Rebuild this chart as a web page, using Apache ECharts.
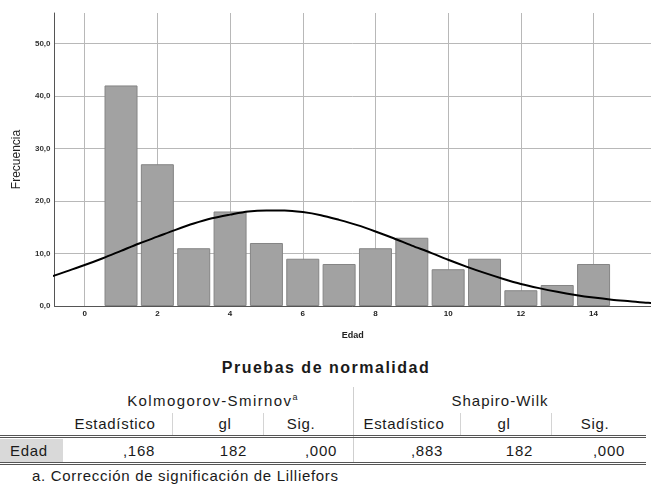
<!DOCTYPE html>
<html>
<head>
<meta charset="utf-8">
<script src="https://cdn.jsdelivr.net/npm/echarts@6/dist/echarts.min.js"></script>
<style>
body{margin:0;background:#fff;font-family:"Liberation Sans",Arial,sans-serif;}
#wrap{position:relative;width:651px;height:484px;overflow:hidden;}
#chart{position:absolute;left:0;top:0;width:651px;height:345px;}
.t{position:absolute;white-space:nowrap;color:#1a1a1a;font-size:15px;letter-spacing:0.7px;line-height:20px;height:20px;}
.ln{position:absolute;}
sup{font-size:9px;vertical-align:6px;line-height:0;}
</style>
</head>
<body>
<div id="wrap">
<div id="chart"></div>
</div>
<script>
// histograma de Edad
var edades = [1,2,3,4,5,6,7,8,9,10,11,12,13,14];
var frecuencias = [42,27,11,18,12,9,8,11,13,7,9,3,4,8];
// curva normal (cada media unidad)
var curvaX = [-1,-0.5,0,0.5,1,1.5,2,2.5,3,3.5,4,4.5,5,5.5,6,6.5,7,7.5,8,8.5,9,9.5,10,10.5,11,11.5,12,12.5,13,13.5,14,14.5,15,15.5,16];
var curvaY = [5.4,6.6,7.8,9.1,10.5,11.9,13.2,14.5,15.7,16.7,17.4,18.0,18.2,18.2,17.9,17.3,16.4,15.4,14.2,12.9,11.5,10.2,8.8,7.5,6.3,5.2,4.2,3.4,2.7,2.1,1.6,1.2,0.9,0.6,0.5];
var xTicks = [0,2,4,6,8,10,12,14];
var yTicks = [0,10,20,30,40,50];

// tabla pruebas de normalidad
var titulo = 'Pruebas de normalidad';
var grupos = ['Kolmogorov-Smirnov<sup>a</sup>','Shapiro-Wilk'];
var columnas = ['Estadístico','gl','Sig.','Estadístico','gl','Sig.'];
var variable = 'Edad';
var valores = [',168','182',',000',',883','182',',000'];
var nota = 'a. Corrección de significación de Lilliefors';

function initChart(){
    var myChart=echarts.init(document.getElementById('chart'));
    var option={
        animation:false,
        textStyle:{fontFamily:'Liberation Sans'},
        grid:{left:54.5,top:13,right:0,bottom:36.3},
        xAxis:{
            type:'value',
            min:-0.83,
            max:15.58,
            name:'Edad',
            nameLocation:'middle',
            nameGap:25,
            nameTextStyle:{fontSize:9,fontWeight:'bold',color:'#222'},
            axisLine:{show:true,onZero:false,lineStyle:{color:'#555',width:1}},
            axisTick:{show:false,customValues:xTicks},
            axisLabel:{customValues:xTicks,fontSize:8,fontWeight:'bold',color:'#222',margin:4},
            splitLine:{show:true,lineStyle:{color:'#b8b8b8',width:1}}
        },
        yAxis:{
            type:'value',
            min:0,
            max:55.8,
            name:'Frecuencia',
            nameLocation:'middle',
            nameGap:32,
            nameTextStyle:{fontSize:12,color:'#222'},
            axisLine:{show:true,onZero:false,lineStyle:{color:'#555',width:1}},
            axisTick:{show:false,customValues:yTicks},
            axisLabel:{
                customValues:yTicks,fontSize:8,fontWeight:'bold',color:'#333',margin:4,
                formatter:function(v){return v.toFixed(1).replace('.',',');}
            },
            splitLine:{show:true,lineStyle:{color:'#b8b8b8',width:1}}
        },
        series:[
            {
                name:'Frecuencia',
                type:'bar',
                barWidth:33,
                data:edades.map(function(e,i){return [e,frecuencias[i]];}),
                itemStyle:{color:'#a2a2a2',borderColor:'#858585',borderWidth:1},
                z:2
            },
            {
                name:'Normal',
                type:'line',
                smooth:0.3,
                symbol:'none',
                data:curvaX.map(function(x,i){return [x,curvaY[i]];}),
                lineStyle:{color:'#000',width:2},
                z:3
            }
        ]
    };
    myChart.setOption(option);
}

function texto(html,left,cy,opts){
    var d=document.createElement('div');
    d.className='t';
    d.innerHTML=html;
    d.style.top=(cy-10)+'px';
    if(opts&&opts.right!==undefined){
        d.style.left='auto';
        d.style.right=(651-opts.right)+'px';
    }else if(opts&&opts.center){
        d.style.left=(left-200)+'px';
        d.style.width='400px';
        d.style.textAlign='center';
    }else{
        d.style.left=left+'px';
    }
    if(opts&&opts.bold){d.style.fontWeight='bold';}
    if(opts&&opts.size){d.style.fontSize=opts.size+'px';}
    if(opts&&opts.ls!==undefined){d.style.letterSpacing=opts.ls+'px';}
    document.getElementById('wrap').appendChild(d);
    return d;
}
function linea(x,y,w,h,css){
    var d=document.createElement('div');
    d.className='ln';
    d.style.left=x+'px';d.style.top=y+'px';
    d.style.width=w+'px';d.style.height=h+'px';
    for(var k in css){d.style[k]=css[k];}
    document.getElementById('wrap').appendChild(d);
}

function initTabla(){
    var centrosGrupo=[213,500];
    var centrosCol=[115,225,301,404,504,595];
    var finesValor=[155,247,337,443,533,625];
    texto(titulo,326,368,{center:true,bold:true,size:16,ls:1.5});
    texto(grupos[0],centrosGrupo[0],401,{center:true,ls:1.4});
    texto(grupos[1],centrosGrupo[1],401,{center:true,ls:1});
    // separadores
    linea(353,387,1,75,{background:'#cfcfcf'});
    [172,263,460,551].forEach(function(x){linea(x,413,1,22,{background:'#d4d4d4'});});
    for(var j=0;j<columnas.length;j++){
        texto(columnas[j],centrosCol[j],424,{center:true});
    }
    linea(0,435,646,1,{borderTop:'3px double #555',height:'0px'});
    linea(0,439,63,23,{background:'#d9d9d9'});
    texto(variable,10,451);
    for(var k=0;k<valores.length;k++){
        texto(valores[k],0,451,{right:finesValor[k]});
    }
    linea(0,462,646,1,{borderTop:'3px double #555',height:'0px'});
    texto(nota,32,476);
}

initChart();
initTabla();
</script>
</body>
</html>
